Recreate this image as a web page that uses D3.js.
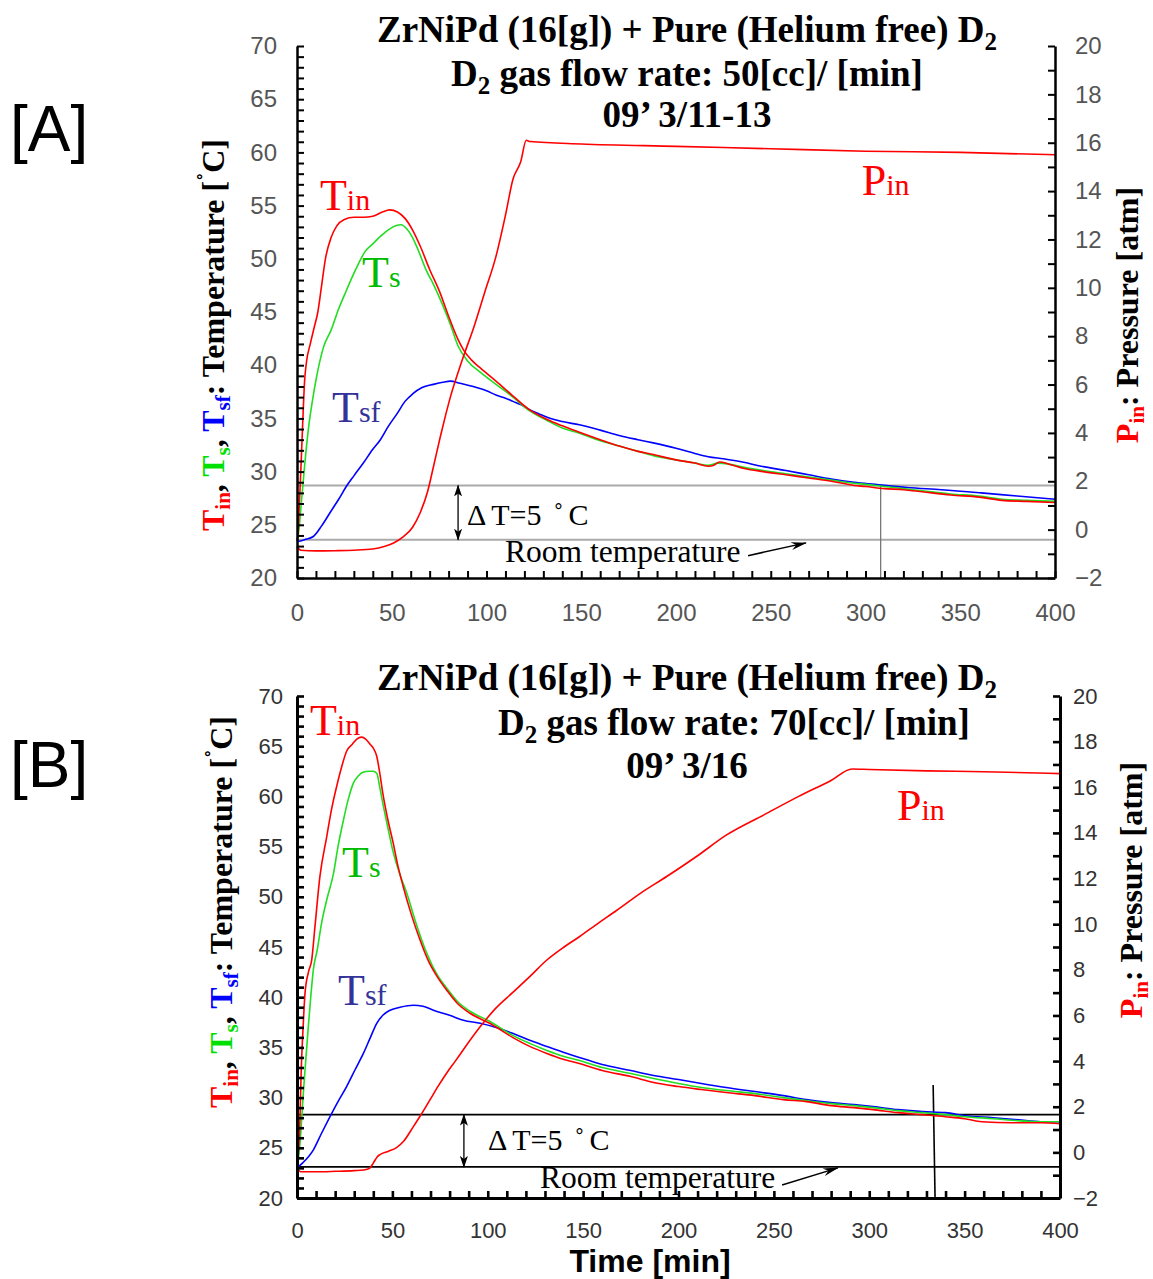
<!DOCTYPE html>
<html>
<head>
<meta charset="UTF-8">
<title>ZrNiPd D2 absorption</title>
<script src="https://d3js.org/d3.v7.min.js"></script>
<style>
  body { margin: 0; background: #fff; }
  svg text { font-family: "Liberation Serif", "Times New Roman", serif; }
</style>
</head>
<body>
<svg id="chart" width="1153" height="1279"></svg>
<script>
// ---- tick values ----
const timeTicks = [0, 50, 100, 150, 200, 250, 300, 350, 400];
const tempTicks = [20, 25, 30, 35, 40, 45, 50, 55, 60, 65, 70];
const pressTicks = [-2, 0, 2, 4, 6, 8, 10, 12, 14, 16, 18, 20];

// ---- panel A : 50 cc/min, 09' 3/11-13 ----  [time min, value]
const tinA = [[0,23.5],[0.5,24],[1,26],[2,30],[3,34.5],[4,38.5],[5,40.3],[7,42],[9,43.5],[11,45],[13,47.5],[15,50],[18,52],[21,53.1],[25,53.7],[30,53.9],[35,53.9],[40,54],[45,54.4],[49,54.6],[53,54.4],[57,53.8],[61,52.7],[65,51.2],[70,49],[75.5,46.8],[80,44.6],[85,42.4],[88,41.4],[92,40.5],[97,39.7],[105,38.5],[114,37.1],[122,35.9],[132,34.9],[140,34.3],[149,33.7],[160,33],[170,32.4],[180,31.9],[188,31.6],[200,31.1],[210,30.8],[217,30.5],[220,30.6],[223,30.9],[228,30.7],[236,30.3],[246,30.0],[258,29.7],[270,29.4],[282,29.1],[294,28.7],[300,28.6],[310,28.4],[320,28.3],[330,28.1],[345,27.8],[360,27.6],[372,27.3],[385,27.2],[400,27.1]];
const tsA = [[0,23.5],[1,24.5],[2,26.5],[3,28.5],[4,30.5],[6,34],[8,36.5],[10,38.6],[14,41.7],[18,43.3],[22,45.3],[26,47],[31,49],[36,50.7],[40,51.4],[44,52.1],[48,52.7],[52,53.1],[55,53.2],[58,52.8],[61,52],[64,50.8],[68,49],[72,47.6],[77,45.6],[81,43.8],[85,41.8],[90,40.4],[97,39.3],[105,38.2],[114,37],[122,35.8],[132,34.8],[140,34.1],[149,33.6],[160,32.9],[170,32.4],[180,31.9],[188,31.5],[200,31.1],[210,30.8],[217,30.6],[222,30.8],[228,30.7],[236,30.4],[246,30.1],[258,29.8],[270,29.5],[282,29.2],[294,28.9],[300,28.8],[310,28.6],[320,28.4],[330,28.2],[345,27.9],[360,27.7],[372,27.4],[385,27.3],[400,27.2]];
const tsfA = [[0,23.4],[4,23.6],[8.6,23.9],[13,24.9],[18,26.3],[22,27.4],[26,28.6],[30,29.6],[35,30.8],[40,32.1],[44,33],[48,34.2],[53,35.5],[57,36.6],[61,37.3],[66,37.9],[72,38.2],[77,38.4],[81,38.5],[86,38.3],[93,38],[100,37.6],[105,37.2],[110,36.9],[114,36.6],[118,36.3],[123,35.8],[128,35.4],[132,35.1],[140,34.7],[149,34.4],[160,33.9],[170,33.4],[180,33],[188,32.7],[200,32.2],[210,31.7],[217,31.4],[225,31.2],[235,30.9],[245,30.5],[258,30.1],[270,29.7],[282,29.3],[294,29.0],[305,28.8],[322,28.5],[340,28.3],[361,28],[380,27.7],[400,27.4]];
const pinA = [[0,-0.7],[2,-0.85],[10,-0.88],[20,-0.87],[30,-0.85],[40,-0.8],[46,-0.7],[51,-0.55],[56,-0.3],[61,0.1],[65,0.7],[69,1.6],[72,2.6],[75.5,3.8],[78,4.6],[81,5.5],[85,6.5],[88,7.2],[93,8.3],[99,9.8],[105,11.3],[110,13],[114,14.5],[118,15.2],[121,16.1],[123,16.05],[150,15.95],[200,15.85],[250,15.75],[300,15.65],[350,15.6],[400,15.5]];

// ---- panel B : 70 cc/min, 09' 3/16 ----
const tinB = [[0,22.7],[0.5,24],[1.2,26],[2.4,33.7],[3.2,37],[4.2,40.4],[6,42.5],[7.7,43.7],[9.4,47],[12,52],[15.6,56],[18,58.6],[20.8,61],[23.5,63],[26,64.5],[29,65.2],[32,65.8],[34,65.9],[36,65.7],[38.3,65.2],[40,64.8],[41.8,64],[43.5,62.2],[45,60.3],[47.5,57.8],[50.5,55.3],[53,53],[55.7,51],[60,48.2],[64.5,45.7],[68.7,43.7],[73,42.2],[78.5,40.7],[84,39.4],[90.7,38.4],[101,37.4],[113,36],[122,35.1],[131,34.4],[140,33.8],[148,33.4],[160,32.7],[175,32.1],[187,31.5],[200,31.1],[212,30.8],[225,30.5],[240,30.2],[255,29.8],[267,29.6],[280,29.2],[292,29.0],[302,28.8],[315,28.5],[328,28.3],[340,28.1],[350,27.9],[359,27.6],[375,27.5],[390,27.5],[400,27.4]];
const tsB = [[0,23],[0.8,24],[1.6,25.5],[2.5,28],[3.3,30.4],[4.5,33.5],[5.9,37],[7.2,40],[8.6,42.8],[10.5,44.6],[13,47.5],[16,50],[19,52.2],[21.5,55],[24.3,57.6],[27,59.8],[29.5,61.3],[32,62],[34.5,62.4],[37.9,62.5],[40,62.5],[41.8,62.3],[43.5,60.8],[45,59.3],[47.5,57],[50.5,54.4],[54,52.2],[57.5,50.4],[62,47.6],[68,44.4],[73,42.4],[78.5,40.9],[84,39.6],[90.7,38.6],[101,37.6],[113,36.2],[122,35.4],[131,34.7],[140,34.1],[148,33.7],[160,33],[175,32.4],[187,31.9],[200,31.4],[212,31],[225,30.7],[240,30.4],[255,30],[267,29.7],[280,29.4],[292,29.2],[302,29.0],[315,28.7],[328,28.5],[340,28.3],[350,28.1],[365,27.9],[378,27.7],[390,27.6],[400,27.6]];
const tsfB = [[0,23],[3,23.5],[8.6,24.8],[13,26.5],[17.3,28.1],[21.5,29.6],[26,31.1],[30.5,32.8],[34.8,34.4],[38.5,36],[41.8,37.4],[45,38.2],[48.8,38.7],[54,39],[61,39.2],[66,39.1],[71.5,38.7],[80,38.2],[87.2,37.7],[96,37.4],[104,37],[113,36.4],[122,35.7],[131,35.1],[140,34.5],[148,34],[160,33.3],[175,32.7],[187,32.2],[200,31.8],[212,31.4],[225,31],[240,30.6],[255,30.2],[267,29.8],[280,29.5],[292,29.3],[302,29.1],[315,28.8],[328,28.6],[340,28.5],[350,28.2],[365,28.0],[378,27.8],[390,27.6],[400,27.6]];
const pinB = [[0,-0.7],[2,-0.85],[10,-0.85],[20,-0.83],[30,-0.8],[35,-0.77],[38,-0.7],[40,-0.47],[42,-0.2],[43.5,-0.1],[48,0.05],[52,0.2],[56,0.5],[61,1.13],[65,1.65],[69.7,2.3],[74,2.9],[78.5,3.48],[83,4.0],[87.2,4.5],[96,5.5],[104,6.3],[113,7],[122,7.7],[131,8.43],[140,9.0],[148,9.45],[158,10.05],[167.5,10.6],[180,11.35],[194,12.1],[210,13.0],[225,13.9],[245,14.8],[263,15.6],[280,16.3],[291,16.8],[300,16.78],[330,16.72],[360,16.68],[400,16.6]];

const RED = "#ff0000", GREEN = "#22dd22", BLUE = "#0000ff";

const svg = d3.select("#chart");
svg.append("rect").attr("width", 1153).attr("height", 1279).attr("fill", "#fff");

const defs = svg.append("defs");
function marker(id, path, w, h, refX) {
  defs.append("marker").attr("id", id)
    .attr("viewBox", `0 0 ${w} ${h}`).attr("refX", refX).attr("refY", h / 2)
    .attr("markerWidth", w).attr("markerHeight", h).attr("markerUnits", "userSpaceOnUse")
    .attr("orient", "auto-start-reverse")
    .append("path").attr("d", path).attr("fill", "#000");
}
marker("dbl", "M0,0 L12,4 L0,8 L3,4 Z", 12, 8, 11);
marker("room", "M0,0 L16,4 L0,8 L5,4 Z", 16, 8, 15);

// tspans with sub/superscripts
function rich(text, parts) {
  let shift = 0;
  parts.forEach(p => {
    const want = p.sub || (p.sup ? -p.sup : 0);
    const ts = text.append("tspan").text(p.t).attr("dy", want - shift);
    shift = want;
    if (p.fill) ts.attr("fill", p.fill);
    if (p.size) ts.attr("font-size", p.size);
    if (p.dx) ts.attr("dx", p.dx);
  });
  return text;
}

function drawPanel(o) {
  const x = d3.scaleLinear().domain([0, 400]).range([o.left, o.right]);
  const yT = d3.scaleLinear().domain([20, 70]).range([o.bottom, o.top]);
  const yP = d3.scaleLinear().domain([-2, 20]).range([o.bottom, o.top]);
  const g = svg.append("g");

  // reference lines (room temperature and +5 degrees)
  o.refT.forEach(v => {
    g.append("line").attr("x1", x(0)).attr("x2", x(400))
      .attr("y1", yT(v)).attr("y2", yT(v))
      .attr("stroke", o.refColor).attr("stroke-width", o.refWidth);
  });
  g.append("line")
    .attr("x1", x(o.vline[0][0])).attr("y1", yT(o.vline[0][1]))
    .attr("x2", x(o.vline[1][0])).attr("y2", yT(o.vline[1][1]))
    .attr("stroke", o.vColor).attr("stroke-width", o.vWidth);

  // data
  const lineT = d3.line().x(d => x(d[0])).y(d => yT(d[1])).curve(d3.curveMonotoneX);
  const lineP = d3.line().x(d => x(d[0])).y(d => yP(d[1])).curve(d3.curveMonotoneX);
  [[o.tsf, BLUE], [o.ts, GREEN], [o.tin, RED]].forEach(([d, c]) => {
    g.append("path").datum(d).attr("d", lineT).attr("fill", "none")
      .attr("stroke", c).attr("stroke-width", 1.6);
  });
  g.append("path").datum(o.pin).attr("d", lineP).attr("fill", "none")
    .attr("stroke", RED).attr("stroke-width", 1.6);

  // axes
  function styleAxis(a) {
    a.select(".domain").attr("stroke", "#000").attr("stroke-width", o.axisWidth);
    a.selectAll(".tick line").attr("stroke", "#000").attr("stroke-width", o.tickWidth);
    a.selectAll("text").attr("fill", o.tickColor).attr("font-size", o.tickSize)
      .style("font-family", "Liberation Sans, Arial, sans-serif");
  }
  const minorT = d3.range(20, 71, 1), minorX = d3.range(0, 401, 10), minorP = d3.range(-2, 21, 1);
  g.append("g").attr("transform", `translate(${o.left},0)`)
    .call(d3.axisLeft(yT).tickValues(minorT).tickSize(-7).tickSizeOuter(0).tickFormat(""))
    .call(styleAxis);
  g.append("g").attr("transform", `translate(${o.left},0)`)
    .call(d3.axisLeft(yT).tickValues(tempTicks).tickSize(0).tickPadding(o.padL).tickFormat(d3.format("d")))
    .call(styleAxis).select(".domain").remove();
  g.append("g").attr("transform", `translate(${o.right},0)`)
    .call(d3.axisRight(yP).tickValues(minorP).tickSize(-7).tickSizeOuter(0).tickFormat(""))
    .call(styleAxis);
  g.append("g").attr("transform", `translate(${o.right},0)`)
    .call(d3.axisRight(yP).tickValues(pressTicks).tickSize(0).tickPadding(o.padR)
      .tickFormat(d => d < 0 ? "\u2212" + Math.abs(d) : d))
    .call(styleAxis).select(".domain").remove();
  g.append("g").attr("transform", `translate(0,${o.bottom})`)
    .call(d3.axisBottom(x).tickValues(minorX).tickSize(-7).tickSizeOuter(0).tickFormat(""))
    .call(styleAxis);
  g.append("g").attr("transform", `translate(0,${o.bottom})`)
    .call(d3.axisBottom(x).tickValues(timeTicks).tickSize(0).tickPadding(o.padB))
    .call(styleAxis).select(".domain").remove();

  // delta T arrow and room temperature note
  g.append("line").attr("x1", x(o.dtArrow)).attr("x2", x(o.dtArrow))
    .attr("y1", yT(o.refT[0])).attr("y2", yT(o.refT[1]))
    .attr("stroke", "#000").attr("stroke-width", 1.3)
    .attr("marker-start", "url(#dbl)").attr("marker-end", "url(#dbl)");
  rich(g.append("text").attr("x", x(o.dtText[0])).attr("y", yT(o.dtText[1])).attr("font-size", 30),
    [{ t: "\u0394" }, { t: "T=5", dx: 5 }, { t: "\u02DA", dx: 12 }, { t: "C", dx: 5 }]);
  g.append("text").attr("x", x(o.roomText[0])).attr("y", yT(o.roomText[1]))
    .attr("font-size", 31.5).text("Room temperature");
  g.append("line")
    .attr("x1", x(o.roomArrow[0][0])).attr("y1", yT(o.roomArrow[0][1]))
    .attr("x2", x(o.roomArrow[1][0])).attr("y2", yT(o.roomArrow[1][1]))
    .attr("stroke", "#000").attr("stroke-width", 1.5).attr("marker-end", "url(#room)");

  // curve labels
  const lab = (pos, yScale, main, sub, col) => {
    rich(g.append("text").attr("x", x(pos[0])).attr("y", yScale(pos[1]))
      .attr("fill", col).attr("font-size", 44),
      [{ t: main }, { t: sub, size: 30 }]);
  };
  lab(o.labTin, yT, "T", "in", RED);
  lab(o.labTs, yT, "T", "s", "#00bb00");
  lab(o.labTsf, yT, "T", "sf", "#333399");
  lab(o.labPin, yP, "P", "in", RED);

  // titles
  const tg = g.append("g").attr("font-weight", "bold").attr("font-size", 37).attr("text-anchor", "middle");
  rich(tg.append("text").attr("x", 687).attr("y", o.titleY[0]),
    [{ t: "ZrNiPd (16[g]) + Pure (Helium free) D" }, { t: "2", sub: 8, size: 25 }]);
  rich(tg.append("text").attr("x", o.line2X).attr("y", o.titleY[1]),
    [{ t: "D" }, { t: "2", sub: 8, size: 25 }, { t: " gas flow rate: " + o.flow + "[cc]/ [min]" }]);
  tg.append("text").attr("x", 687).attr("y", o.titleY[2]).text(o.date);

  // axis titles
  const lt = g.append("text").attr("transform", `translate(${o.leftLab[0]},${o.leftLab[1]}) rotate(-90)`)
    .attr("text-anchor", "middle").attr("font-weight", "bold").attr("font-size", 32);
  rich(lt, [
    { t: "T", fill: RED }, { t: "in", fill: RED, size: 21, sub: 6 }, { t: ", " },
    { t: "T", fill: "#00e000" }, { t: "s", fill: "#00e000", size: 21, sub: 6 }, { t: ", " },
    { t: "T", fill: BLUE }, { t: "sf", fill: BLUE, size: 21, sub: 6 },
    { t: ": Temperature [" }, { t: "\u02DA", sup: 10, size: 24 }, { t: "C]" }
  ]);
  const rt = g.append("text").attr("transform", `translate(${o.rightLab[0]},${o.rightLab[1]}) rotate(-90)`)
    .attr("text-anchor", "middle").attr("font-weight", "bold").attr("font-size", 32);
  rich(rt, [{ t: "P", fill: RED }, { t: "in", fill: RED, size: 21, sub: 6 }, { t: ": Pressure [atm]" }]);

  // panel tag
  svg.append("text").attr("x", 10).attr("y", o.tagY).attr("font-size", 64)
    .style("font-family", "Liberation Sans, Arial, sans-serif").text(o.tag);
}

drawPanel({
  tag: "[A]", tagY: 151,
  left: 297, right: 1055, top: 46, bottom: 578,
  tin: tinA, ts: tsA, tsf: tsfA, pin: pinA,
  refT: [28.7, 23.6], refColor: "#aaaaaa", refWidth: 2,
  vline: [[308, 28.7], [308, 20]], vColor: "#777", vWidth: 1.3,
  dtArrow: 85, dtText: [89.7, 25.0], roomText: [109.8, 21.5],
  roomArrow: [[238, 22.1], [268.6, 23.3]],
  labTin: [12.1, 54.6], labTs: [34.3, 47.35], labTsf: [18.5, 34.7], labPin: [298, 13.84],
  axisWidth: 2.5, tickWidth: 2, tickColor: "#555", tickSize: 24,
  padL: 20, padR: 20, padB: 26,
  titleY: [42, 86, 127], line2X: 687, flow: 50, date: "09\u2019 3/11-13",
  leftLab: [224, 335], rightLab: [1138, 315]
});

drawPanel({
  tag: "[B]", tagY: 787,
  left: 297, right: 1060, top: 696, bottom: 1198,
  tin: tinB, ts: tsB, tsf: tsfB, pin: pinB,
  refT: [28.3, 23.1], refColor: "#000", refWidth: 1.6,
  vline: [[333.5, 31.25], [334.5, 20]], vColor: "#000", vWidth: 1.6,
  dtArrow: 87.5, dtText: [100.1, 24.8], roomText: [127.4, 21.0],
  roomArrow: [[254.3, 21.3], [283.6, 23.0]],
  labTin: [6.8, 66.1], labTs: [23.6, 52.0], labTsf: [21.5, 39.2], labPin: [314.5, 14.57],
  axisWidth: 3, tickWidth: 2.6, tickColor: "#333", tickSize: 22,
  padL: 14, padR: 13, padB: 24,
  titleY: [690, 735, 778], line2X: 734, flow: 70, date: "09\u2019 3/16",
  leftLab: [232, 912], rightLab: [1142, 890]
});

svg.append("text").attr("x", 650).attr("y", 1272).attr("text-anchor", "middle")
  .attr("font-size", 32).attr("font-weight", "bold")
  .style("font-family", "Liberation Sans, Arial, sans-serif").text("Time [min]");
</script>
</body>
</html>
